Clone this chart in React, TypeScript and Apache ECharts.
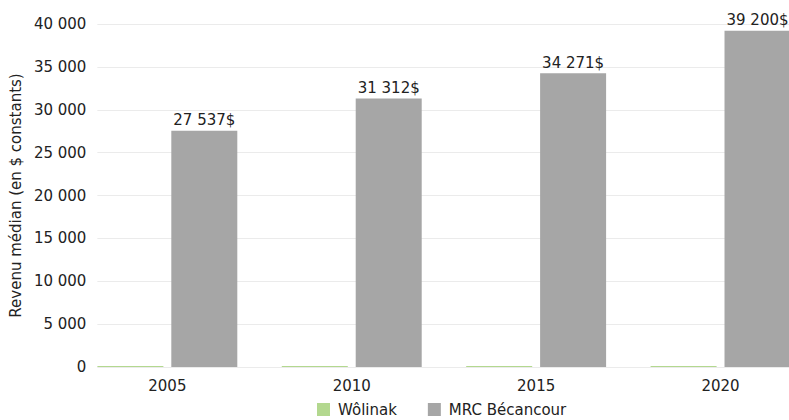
import React, { useEffect, useRef } from "react";
import * as echarts from "echarts";

const years = [2005, 2010, 2015, 2020];
const wolinak = [0, 0, 0, 0];
const mrcBecancour = [27537, 31312, 34271, 39200];
const seriesNames = ["Wôlinak", "MRC Bécancour"];
const yTitle = "Revenu médian (en $ constants)";

const fmt = (v: number) => String(Math.round(v)).replace(/\B(?=(\d{3})+(?!\d))/g, " ");

export default function App() {
  const ref = useRef<HTMLDivElement>(null);
  useEffect(() => {
    if (!ref.current) return;
    const chart = echarts.init(ref.current, null, { renderer: "svg" });
    const font = "DejaVu Sans";
    chart.setOption({
      animation: false,
      textStyle: { fontFamily: font },
      grid: { left: 97, right: 0, top: 24, bottom: 53, containLabel: false },
      legend: {
        data: seriesNames,
        top: 402,
        left: 317,
        padding: 0,
        itemWidth: 13,
        itemHeight: 13,
        itemGap: 31,
        icon: "rect",
        textStyle: { fontSize: 15, color: "#222", fontFamily: font, padding: [0, 0, 0, 3] },
      },
      xAxis: {
        type: "value",
        min: 2003.103,
        max: 2021.856,
        splitLine: { show: false },
        axisLine: { show: false },
        axisTick: { show: false },
        axisLabel: {
          customValues: years,
          formatter: (v: number) => String(Math.round(v)),
          fontSize: 15,
          color: "#222",
          margin: 11,
          fontFamily: font,
        },
      },
      yAxis: {
        type: "value",
        min: 0,
        max: 40000,
        interval: 5000,
        name: yTitle,
        nameLocation: "middle",
        nameGap: 70.5,
        nameTextStyle: { fontSize: 15, color: "#222", fontFamily: font },
        axisLine: { show: false },
        axisTick: { show: false },
        splitLine: { lineStyle: { color: "#ebebeb", width: 1 } },
        axisLabel: { formatter: fmt, fontSize: 15, color: "#222", margin: 11, fontFamily: font },
      },
      series: [
        {
          name: seriesNames[0],
          type: "bar",
          barWidth: 66,
          barGap: "12%",
          barMinHeight: 1,
          itemStyle: { color: "#b3d88f" },
          data: years.map((y, i) => [y, wolinak[i]]),
        },
        {
          name: seriesNames[1],
          type: "bar",
          barWidth: 66,
          barGap: "12%",
          itemStyle: { color: "#a6a6a6" },
          label: {
            show: true,
            position: "top",
            distance: 3,
            fontSize: 15,
            color: "#222",
            fontFamily: font,
            formatter: (p: any) => fmt(p.value[1]) + "$",
          },
          data: years.map((y, i) => [y, mrcBecancour[i]]),
        },
      ],
    });
    return () => chart.dispose();
  }, []);
  return <div ref={ref} style={{ width: 789, height: 420, position: "absolute", left: 0, top: 0 }} />;
}
